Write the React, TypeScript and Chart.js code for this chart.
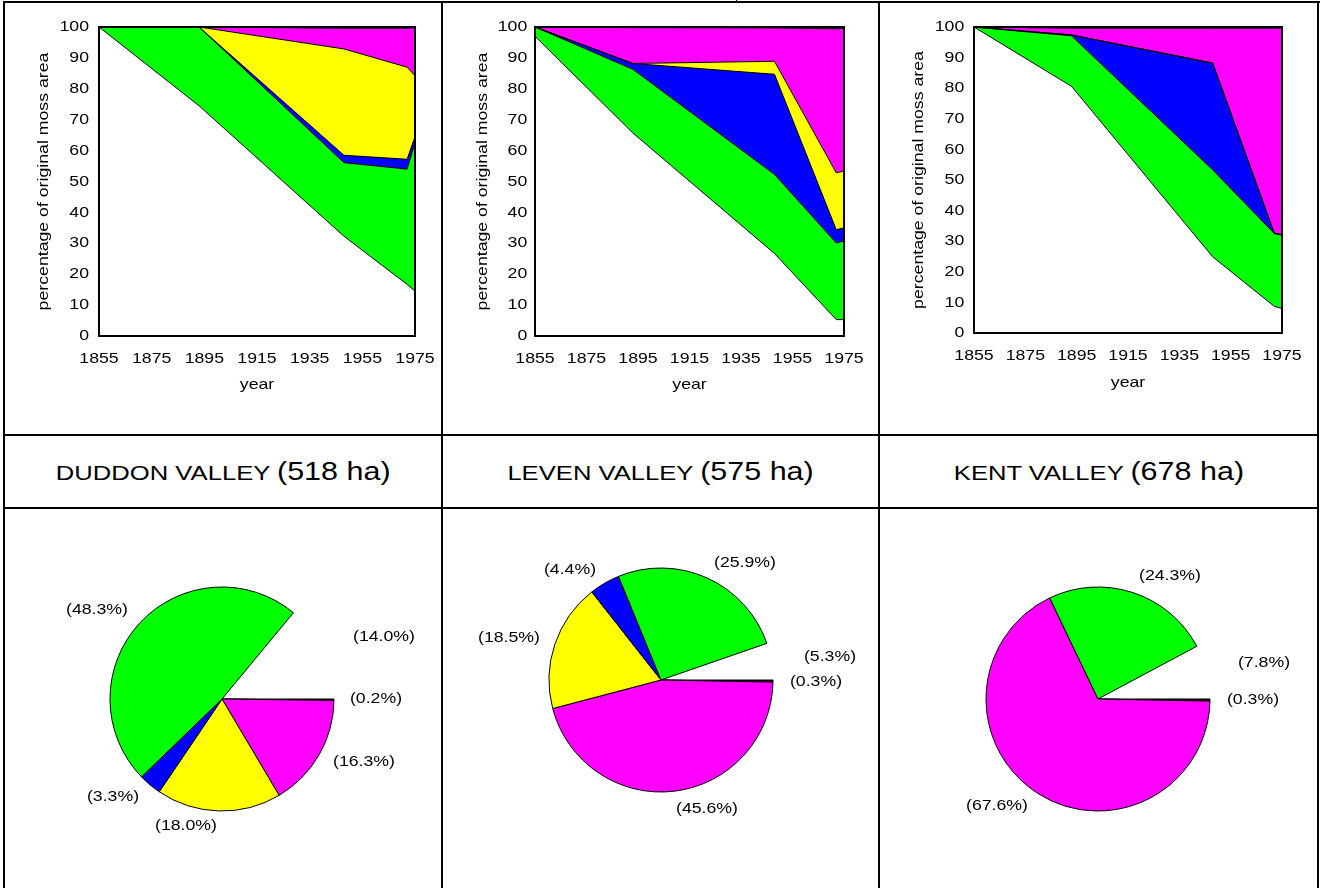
import React, { useEffect, useRef } from 'react';
import { Chart, registerables } from 'chart.js';

Chart.register(...registerables);

const FONT = '"Liberation Sans", Arial, Helvetica, sans-serif';

// ---------------- data ----------------
const years = [1855, 1893, 1948, 1972, 1975];
const xTickValues = [1855, 1875, 1895, 1915, 1935, 1955, 1975];
const yTickValues = [0, 10, 20, 30, 40, 50, 60, 70, 80, 90, 100];

const xAxisTitle = 'year';
const yAxisTitle = 'percentage of original moss area';

const valleyNames = ['DUDDON VALLEY', 'LEVEN VALLEY', 'KENT VALLEY'];
const valleyAreas = ['518 ha', '575 ha', '678 ha'];

// layer colours (bottom to top)
const layerColors = ['#FFFFFF', '#00FF00', '#0000FF', '#FFFF00', '#FF00FF', '#000000'];

// upper boundary of each layer, percentage of original moss area
const duddonRemaining = [100, 74.5, 32.3, 16.7, 14.5];
const duddonGreenTop = [100, 100, 56.1, 54.0, 62.6];
const duddonBlueTop = [100, 100, 58.5, 57.2, 64.5];
const duddonYellowTop = [100, 100, 92.9, 87.0, 84.2];
const duddonMagentaTop = [100, 100, 99.6, 99.6, 99.8];
const duddonBlackTop = [100, 100, 100, 100, 100];

const levenRemaining = [97.0, 65.7, 26.7, 5.3, 5.3];
const levenGreenTop = [100, 86.3, 52.3, 30.1, 30.8];
const levenBlueTop = [100, 88.2, 84.7, 34.4, 35.0];
const levenYellowTop = [100, 88.2, 88.9, 52.8, 53.4];
const levenMagentaTop = [100, 99.8, 99.7, 99.4, 99.6];
const levenBlackTop = [100, 100, 100, 100, 100];

const kentRemaining = [100, 80.6, 24.9, 8.7, 8.0];
const kentGreenTop = [100, 97.1, 53.3, 32.5, 32.0];
const kentBlueTop = [100, 97.4, 88.2, 32.6, 32.1];
const kentYellowTop = [100, 97.4, 88.2, 32.6, 32.1];
const kentMagentaTop = [100, 99.6, 99.6, 99.6, 99.7];
const kentBlackTop = [100, 100, 100, 100, 100];

// 1975 distribution (pie), clockwise from 3 o'clock
const duddonPieValues = [0.2, 16.3, 18.0, 3.3, 48.3, 14.0];
const duddonPieColors = ['#000000', '#FF00FF', '#FFFF00', '#0000FF', '#00FF00', 'rgba(0,0,0,0)'];

const levenPieValues = [0.3, 45.6, 18.5, 4.4, 25.9, 5.3];
const levenPieColors = ['#000000', '#FF00FF', '#FFFF00', '#0000FF', '#00FF00', 'rgba(0,0,0,0)'];

const kentPieValues = [0.3, 67.6, 24.3, 7.8];
const kentPieColors = ['#000000', '#FF00FF', '#00FF00', 'rgba(0,0,0,0)'];

// ---------------- layout (styling only) ----------------
const duddonLabelOffsets = [[154, 0], [142, 63], [-36, 127], [-109, 98], [-125, -89], [162, -62]];
const levenLabelOffsets = [[155, 2], [46, 129], [-152, -42], [-91, -110], [84, -117], [169, -23]];
const kentLabelOffsets = [[155, 1], [-101, 107], [72, -123], [166, -36]];

type Box = { left: number; top: number; w: number; h: number };
type Plot = { l: number; t: number; r: number; b: number };

const TEXT_STRETCH = 1.18;
const CHART_FONT_SIZE = 15;

// the original document renders its text horizontally widened
function stretchPlugin(sx: number) {
  return {
    id: 'stretchText',
    beforeInit(chart: any) {
      const ctx = chart.ctx;
      const orig = ctx.fillText.bind(ctx);
      ctx.fillText = (text: string, x: number, y: number) => {
        ctx.save();
        ctx.translate(x, y);
        ctx.scale(sx, 1);
        orig(text, 0, 0);
        ctx.restore();
      };
    },
  };
}

const framePlugin = {
  id: 'frame',
  afterDatasetsDraw(chart: any) {
    const { ctx, chartArea } = chart;
    ctx.save();
    ctx.strokeStyle = '#000';
    ctx.lineWidth = 2;
    ctx.strokeRect(chartArea.left, chartArea.top, chartArea.right - chartArea.left, chartArea.bottom - chartArea.top);
    ctx.restore();
  },
};

function AreaPanel(props: {
  layers: number[][];
  box: Box;
  plot: Plot;
  titleX: number;
  titleY: number;
  yTickPad: number;
}) {
  const ref = useRef<HTMLCanvasElement>(null);
  useEffect(() => {
    const { layers, box, plot, titleX, titleY, yTickPad } = props;
    const yWidth = plot.l - box.left;
    const xHeight = box.top + box.h - plot.b;
    const lh = CHART_FONT_SIZE * 1.2;
    const chart = new Chart(ref.current as HTMLCanvasElement, {
      type: 'line',
      data: {
        datasets: layers.map((vals, i) => ({
          data: years.map((x, j) => ({ x, y: vals[j] })),
          backgroundColor: layerColors[i],
          borderColor: '#000',
          borderWidth: 1,
          pointRadius: 0,
          tension: 0,
          fill: i === 0 ? 'origin' : '-1',
        })),
      },
      options: {
        animation: false,
        responsive: false,
        maintainAspectRatio: false,
        events: [],
        layout: {
          padding: { left: 0, top: plot.t - box.top, right: box.left + box.w - plot.r, bottom: 0 },
        },
        plugins: {
          legend: { display: false },
          tooltip: { enabled: false },
          filler: { drawTime: 'beforeDatasetsDraw' },
        } as any,
        scales: {
          x: {
            type: 'linear',
            min: xTickValues[0],
            max: xTickValues[xTickValues.length - 1],
            grid: { display: false, drawTicks: false },
            border: { display: false },
            afterBuildTicks: (s: any) => { s.ticks = xTickValues.map((v) => ({ value: v })); },
            afterFit: (s: any) => {
              s.height = xHeight;
              s.paddingLeft = 0;
              s.paddingRight = 0;
            },
            ticks: {
              autoSkip: false,
              maxRotation: 0,
              padding: 23 - lh / 2,
              color: '#000',
              font: { family: FONT, size: CHART_FONT_SIZE },
              callback: (v: any) => String(v),
            },
            title: {
              display: true,
              text: xAxisTitle,
              color: '#000',
              font: { family: FONT, size: CHART_FONT_SIZE },
              padding: { top: 0, bottom: box.top + box.h - titleY - lh / 2 },
            },
          },
          y: {
            type: 'linear',
            min: yTickValues[0],
            max: yTickValues[yTickValues.length - 1],
            grid: { display: false, drawTicks: false },
            border: { display: false },
            afterBuildTicks: (s: any) => { s.ticks = yTickValues.map((v) => ({ value: v })); },
            afterFit: (s: any) => {
              s.width = yWidth;
              s.paddingTop = 0;
              s.paddingBottom = 0;
            },
            ticks: {
              autoSkip: false,
              padding: yTickPad,
              color: '#000',
              font: { family: FONT, size: CHART_FONT_SIZE },
              callback: (v: any) => String(v),
            },
            title: {
              display: true,
              text: yAxisTitle,
              color: '#000',
              font: { family: FONT, size: CHART_FONT_SIZE },
              padding: { top: titleX - box.left - lh / 2, bottom: 0 },
            },
          },
        },
      } as any,
      plugins: [stretchPlugin(TEXT_STRETCH), framePlugin],
    });
    return () => chart.destroy();
  }, []);
  const { box } = props;
  return (
    <canvas
      ref={ref}
      width={box.w}
      height={box.h}
      style={{ position: 'absolute', left: box.left, top: box.top, width: box.w, height: box.h }}
    />
  );
}

function PiePanel(props: { values: number[]; colors: string[]; offsets: number[][]; box: Box }) {
  const ref = useRef<HTMLCanvasElement>(null);
  useEffect(() => {
    const { values, colors, offsets } = props;
    const labelPlugin = {
      id: 'pieLabels',
      afterDatasetsDraw(chart: any) {
        const ctx = chart.ctx;
        const meta = chart.getDatasetMeta(0);
        ctx.save();
        ctx.font = `${CHART_FONT_SIZE}px ${FONT}`;
        ctx.fillStyle = '#000';
        ctx.textAlign = 'center';
        ctx.textBaseline = 'middle';
        meta.data.forEach((arc: any, i: number) => {
          const [dx, dy] = offsets[i];
          ctx.fillText(`(${values[i].toFixed(1)}%)`, arc.x + dx, arc.y + dy);
        });
        ctx.restore();
      },
    };
    const chart = new Chart(ref.current as HTMLCanvasElement, {
      type: 'pie',
      data: {
        labels: values.map((v) => `${v}%`),
        datasets: [
          {
            data: values,
            backgroundColor: colors,
            borderColor: '#000',
            borderWidth: colors.map((c) => (c === 'rgba(0,0,0,0)' ? 0 : 1)),
            radius: 112,
            rotation: 90,
          } as any,
        ],
      },
      options: {
        animation: false,
        responsive: false,
        maintainAspectRatio: false,
        events: [],
        rotation: 90,
        radius: 112,
        layout: { padding: 0 },
        plugins: { legend: { display: false }, tooltip: { enabled: false } },
      } as any,
      plugins: [stretchPlugin(TEXT_STRETCH), labelPlugin],
    });
    return () => chart.destroy();
  }, []);
  const { box } = props;
  return (
    <canvas
      ref={ref}
      width={box.w}
      height={box.h}
      style={{ position: 'absolute', left: box.left, top: box.top, width: box.w, height: box.h }}
    />
  );
}

function Line(p: { x: number; y: number; w: number; h: number }) {
  return <div style={{ position: 'absolute', left: p.x, top: p.y, width: p.w, height: p.h, background: '#000' }} />;
}

function TitleCell(p: { name: string; area: string; left: number; width: number }) {
  return (
    <div
      style={{
        position: 'absolute',
        left: p.left,
        top: 436,
        width: p.width,
        height: 71,
        display: 'flex',
        alignItems: 'center',
        justifyContent: 'center',
        fontFamily: FONT,
        color: '#000',
        whiteSpace: 'nowrap',
      }}
    >
      <span style={{ display: 'inline-block', transform: 'scaleX(1.22)', transformOrigin: 'center' }}>
        <span style={{ fontSize: 21 }}>{p.name} </span>
        <span style={{ fontSize: 25 }}>({p.area})</span>
      </span>
    </div>
  );
}

export default function App() {
  return (
    <div style={{ position: 'absolute', left: 0, top: 0, width: 1322, height: 888, background: '#fff', overflow: 'hidden' }}>
      <AreaPanel
        layers={[duddonRemaining, duddonGreenTop, duddonBlueTop, duddonYellowTop, duddonMagentaTop, duddonBlackTop]}
        box={{ left: 5, top: 3, w: 436, h: 431 }}
        plot={{ l: 99, t: 27, r: 415, b: 336 }}
        titleX={43.7}
        titleY={385}
        yTickPad={10}
      />
      <AreaPanel
        layers={[levenRemaining, levenGreenTop, levenBlueTop, levenYellowTop, levenMagentaTop, levenBlackTop]}
        box={{ left: 443, top: 3, w: 435, h: 431 }}
        plot={{ l: 535, t: 27, r: 844, b: 336 }}
        titleX={482.7}
        titleY={385}
        yTickPad={7.7}
      />
      <AreaPanel
        layers={[kentRemaining, kentGreenTop, kentBlueTop, kentYellowTop, kentMagentaTop, kentBlackTop]}
        box={{ left: 880, top: 3, w: 437, h: 431 }}
        plot={{ l: 974, t: 27, r: 1282, b: 333 }}
        titleX={919.3}
        titleY={382.7}
        yTickPad={9.7}
      />

      <TitleCell name={valleyNames[0]} area={valleyAreas[0]} left={5} width={436} />
      <TitleCell name={valleyNames[1]} area={valleyAreas[1]} left={443} width={435} />
      <TitleCell name={valleyNames[2]} area={valleyAreas[2]} left={880} width={437} />

      <PiePanel values={duddonPieValues} colors={duddonPieColors} offsets={duddonLabelOffsets} box={{ left: 4, top: 510, w: 436, h: 378 }} />
      <PiePanel values={levenPieValues} colors={levenPieColors} offsets={levenLabelOffsets} box={{ left: 444, top: 510, w: 434, h: 340 }} />
      <PiePanel values={kentPieValues} colors={kentPieColors} offsets={kentLabelOffsets} box={{ left: 880, top: 510, w: 436, h: 378 }} />

      <Line x={3} y={1} w={1317} h={2} />
      <Line x={736} y={0} w={1} h={2} />
      <Line x={3} y={1} w={2} h={887} />
      <Line x={441} y={1} w={2} h={887} />
      <Line x={878} y={1} w={2} h={887} />
      <Line x={1317} y={1} w={2} h={887} />
      <Line x={3} y={434} w={1316} h={2} />
      <Line x={3} y={507} w={1316} h={2} />
    </div>
  );
}
